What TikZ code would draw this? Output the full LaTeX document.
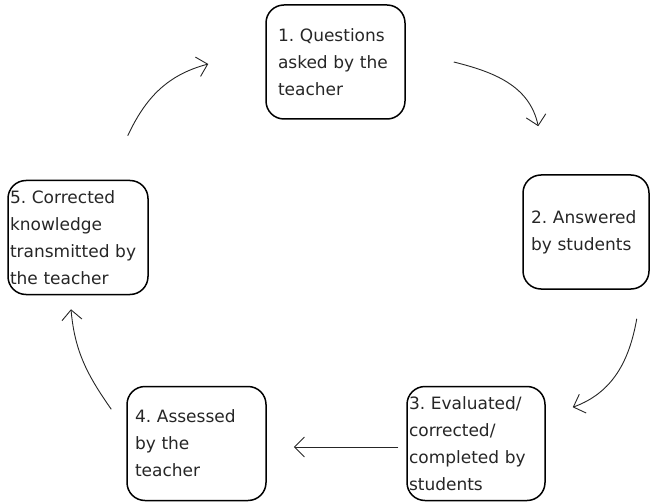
\documentclass[tikz,border=0pt]{standalone}
\usepackage{fontspec}
\setmainfont{DejaVu Sans}
\usetikzlibrary{arrows.meta}
\frenchspacing

\begin{document}
\begin{tikzpicture}[
  x=1pt, y=1pt,
  stage/.style={rectangle, draw=black, line width=1.5pt, rounded corners=18pt, minimum height=114pt, align=left, inner ysep=0pt, text=black!85, font=\fontsize{17}{27}\selectfont},
  arrow/.style={line width=0.9pt, draw=black!85, -{Straight Barb[length=10pt, width=20pt]}}
]
\useasboundingbox (0,0) rectangle (652,501);

% Cycle stages
\node (ask) [stage, text width=115pt, inner xsep=12pt] at (335.5,439) {1. Questions\\asked by the\\teacher};
\node (answer) [stage, text width=110pt, inner xsep=8pt] at (586,269) {2. Answered\\by students};
\node (evaluate) [stage, text width=134pt, inner xsep=2pt] at (476,57.5) {3. Evaluated/\\corrected/\\completed by\\students};
\node (assess) [stage, text width=123pt, inner xsep=8pt] at (196.5,57.5) {4. Assessed\\by the\\teacher};
\node (knowledge) [stage, text width=136pt, inner xsep=2pt] at (78,263.5) {5. Corrected\\knowledge\\transmitted by\\the teacher};

% Arrows
\draw [arrow] ([shift={(48,0)}]ask.east) to[out=-14, in=102] ([shift={(16,48)}]answer.north west);
\draw [arrow] ([shift={(-13,-29)}]answer.south east) to[out=-100, in=20] ([shift={(27,-21.5)}]evaluate.north east);
\draw [arrow] ([shift={(-8,-3.5)}]evaluate.west) -- ([shift={(27,-3.5)}]assess.east);
\draw [arrow] ([shift={(-15,-23.5)}]assess.north west) to[out=125, in=-85] ([shift={(-7,-14)}]knowledge.south);
\draw [arrow] ([shift={(-21,44)}]knowledge.north east) to[out=65, in=195] ([shift={(-57,-2)}]ask.west);
\end{tikzpicture}
\end{document}
